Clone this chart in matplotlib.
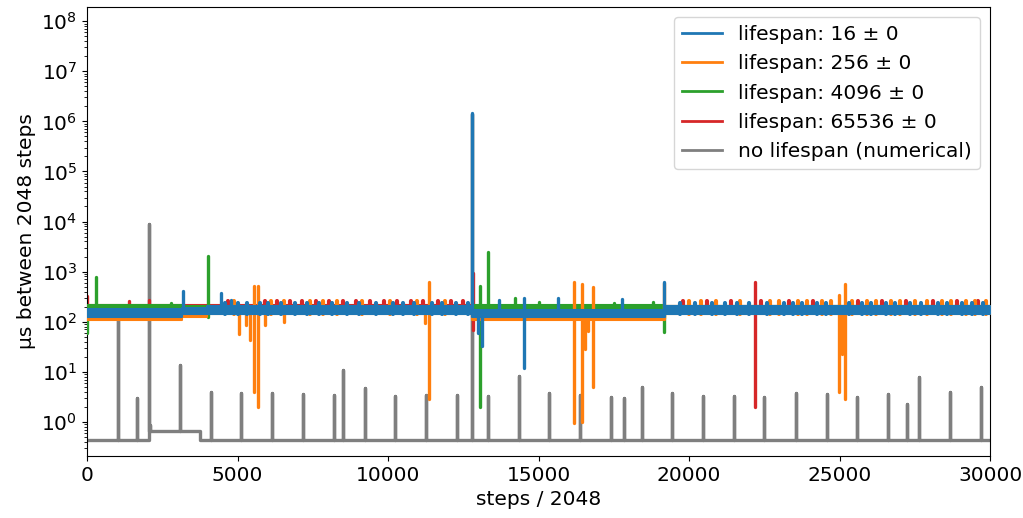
import numpy as np
import matplotlib
matplotlib.use("Agg")
import matplotlib.pyplot as plt

# band breakpoints (steps / 2048) shared by the coloured runs
seg_x = [0, 3150, 4000, 12800, 19200, 30000]

# band low / high (us) per segment
blue_lo = [125, 140, 145, 125, 145]
blue_hi = [180, 185, 205, 170, 205]
orange_lo = [108, 125, 145, 110, 145]
orange_hi = [125, 145, 200, 125, 205]
green_lo = [160, 165, 160, 170, 155]
green_hi = [215, 210, 210, 220, 205]
red_lo = [165, 165, 160, 165, 155]
red_hi = [220, 215, 215, 210, 210]

# large excursions: (x, value)
blue_spikes_x = [3200, 4440, 4800, 12800, 13110, 12980, 13700, 14520, 14520, 15660, 17780, 19170]
blue_spikes_y = [417, 380, 270, 1.48e6, 33, 60, 270, 300, 11.7, 295, 280, 615]
orange_spikes_x = [5060, 5270, 5415, 5550, 5550, 5690, 5690, 5910, 6530, 11230, 11360, 11360,
                   16190, 16190, 16430, 16430, 16540, 16650, 16810, 16810, 19170,
                   24990, 24990, 25080, 25180, 25180]
orange_spikes_y = [57, 86, 44, 525, 3.9, 525, 2.0, 86, 97, 95, 630, 2.9,
                   615, 0.97, 560, 1.0, 28, 65, 490, 4.9, 600,
                   340, 3.9, 23, 570, 2.85]
green_spikes_x = [0, 288, 2790, 4020, 4020, 13070, 13070, 13330, 14220, 15000, 17500, 18800, 19170]
green_spikes_y = [60, 790, 235, 2050, 122, 525, 2.0, 2500, 300, 250, 240, 250, 63]
red_spikes_x = [0, 1400, 2060, 12830, 12830, 22170, 22170]
red_spikes_y = [330, 260, 270, 940, 68, 615, 1.94]

# periodic small bumps above the band
red_bumps = [4700, 5900, 6300, 6750, 7150, 7600, 8050, 8500, 8950, 9400, 9850, 10300, 10750,
             11150, 11650, 12100, 12500, 19800, 20600, 21400, 22400, 23300, 24100, 25600,
             26400, 27200, 28100, 28900, 29600]
orange_bumps = [4900, 6100, 6550, 7400, 7850, 8300, 9150, 10050, 10950, 11900, 20000, 20400,
                20900, 21700, 22700, 23000, 23600, 23900, 24400, 24700, 25400, 25900, 26200,
                26700, 27000, 27500, 27900, 28400, 28700, 29200, 29500, 29850]
blue_bumps = [4600, 5000, 5300, 5750, 6000, 6450, 6900, 7300, 7700, 8150, 8650, 9050, 9600,
              10150, 10500, 10850, 11450, 11800, 12250, 12650, 19700, 20200, 20750, 21200,
              21600, 22000, 22600, 23150, 23450, 23750, 24250, 24550, 25300, 25750, 26050,
              26550, 26850, 27350, 27700, 28250, 28550, 29050, 29400, 29750]
red_bump_h = 260
orange_bump_h = 255
blue_bump_h = 240

# numerical run (no lifespan)
gray_seg_x = [0, 2050, 3760, 30000]
gray_level = [0.43, 0.66, 0.43]
gray_spikes_x = [1040, 1672, 2060, 2100, 3090, 4108, 5127, 6157, 7176, 8206, 8494, 9225, 10243,
                 11272, 12292, 12800, 13311, 14341, 15359, 16378, 17408, 17840, 18428, 19445,
                 20475, 21494, 22502, 23542, 24571, 25590, 26609, 27241, 27640, 28660, 29677]
gray_spikes_y = [110, 3.0, 9000, 0.85, 13.6, 4.0, 3.8, 3.7, 3.6, 3.4, 10.8, 4.8, 3.3,
                 3.5, 3.5, 1.4e6, 3.3, 8.3, 3.7, 3.4, 3.2, 3.0, 5.0, 3.7,
                 3.3, 3.3, 3.2, 3.7, 3.6, 3.2, 3.6, 2.3, 7.7, 4.0, 5.0]

labels = ["lifespan: 16 ± 0", "lifespan: 256 ± 0", "lifespan: 4096 ± 0",
          "lifespan: 65536 ± 0", "no lifespan (numerical)"]
colors = ["tab:blue", "tab:orange", "tab:green", "tab:red", "tab:gray"]


def level_at(xs, seg, lev):
    idx = np.clip(np.searchsorted(seg, xs, side="right") - 1, 0, len(lev) - 1)
    return np.asarray(lev)[idx]


fig = plt.figure(figsize=(10.23, 5.18), dpi=100)
ax = fig.add_axes([0.085, 0.12, 0.883, 0.866])

# gray line built from baseline steps + spikes
gx, gy = [], []
pts = sorted(set(gray_seg_x[1:-1]) | set(gray_spikes_x))
gx.append(0); gy.append(gray_level[0])
for x in pts:
    if x in gray_seg_x[1:-1]:
        i = gray_seg_x.index(x)
        gx += [x, x]; gy += [gray_level[i - 1], gray_level[i]]
    if x in gray_spikes_x:
        b = level_at([x], gray_seg_x, gray_level)[0]
        t = gray_spikes_y[gray_spikes_x.index(x)]
        gx += [x, x, x]; gy += [b, t, b]
gx.append(30000); gy.append(gray_level[-1])
gray_line, = ax.plot(gx, gy, color=colors[4], lw=2.4, zorder=1,
                     solid_joinstyle="round", solid_capstyle="round")

series = [
    (red_lo, red_hi, red_spikes_x, red_spikes_y, red_bumps, red_bump_h, colors[3], labels[3], 2),
    (green_lo, green_hi, green_spikes_x, green_spikes_y, [], 0, colors[2], labels[2], 3),
    (orange_lo, orange_hi, orange_spikes_x, orange_spikes_y, orange_bumps, orange_bump_h, colors[1], labels[1], 4),
    (blue_lo, blue_hi, blue_spikes_x, blue_spikes_y, blue_bumps, blue_bump_h, colors[0], labels[0], 5),
]
handles = {}
for lo, hi, sx, sy, bx, bh, c, lab, z in series:
    ax.fill_between(seg_x, lo + [lo[-1]], hi + [hi[-1]], step="post", color=c, lw=1.5, zorder=z)
    mid = np.sqrt(level_at(sx, seg_x, lo) * level_at(sx, seg_x, hi))
    ax.vlines(sx, mid, sy, color=c, lw=2.4, zorder=z, capstyle="round")
    if bx:
        ax.vlines(bx, level_at(bx, seg_x, lo), bh, color=c, lw=3, zorder=z, capstyle="round")
    handles[lab], = ax.plot([], [], color=c, lw=2, label=lab)
gray_handle, = ax.plot([], [], color=colors[4], lw=2)

ax.set_yscale("log")
ax.set_xlim(0, 30000)
ax.set_ylim(0.21, 1.9e8)
ax.set_yticks([10.0 ** k for k in range(0, 9)])
ax.tick_params(labelsize=14.5)
ax.set_xlabel("steps / 2048", fontsize=14.5)
ax.set_ylabel("µs between 2048 steps", fontsize=14.5)

order = [handles[labels[0]], handles[labels[1]], handles[labels[2]], handles[labels[3]],
         gray_handle]
ax.legend(order, labels, loc="upper right", fontsize=14.5)

fig.savefig("out.png", dpi=100)
